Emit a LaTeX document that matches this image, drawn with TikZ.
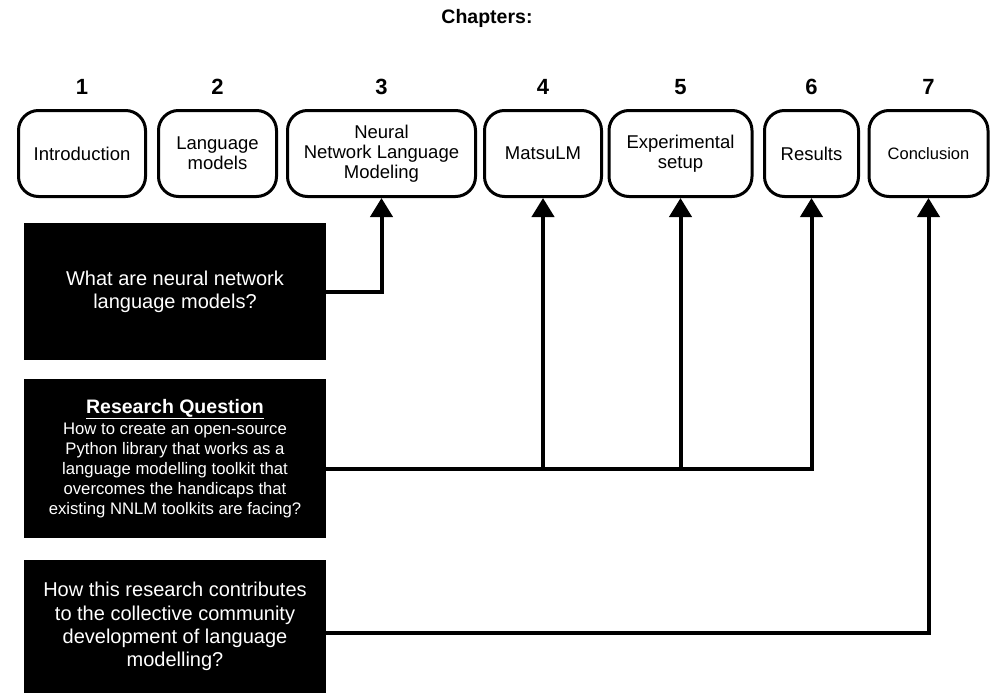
\documentclass[tikz,border=0pt]{standalone}
\usepackage{fontspec}
\setmainfont{Liberation Sans}
\usetikzlibrary{arrows.meta}
\begin{document}
\begin{tikzpicture}[x=1pt,y=-1pt,
  chapter/.style={draw=black, line width=3pt, rounded corners=20pt, fill=white,
    align=center, inner sep=0pt, font=\fontsize{18.5}{20}\selectfont},
  chapnum/.style={font=\bfseries\fontsize{22}{24}\selectfont, anchor=center},
  question/.style={fill=black, text=white, align=center, inner sep=0pt,
    font=\fontsize{20}{23.3}\selectfont},
  conn/.style={line width=4pt, -{Triangle[width=22pt,length=19pt]}},
  link/.style={line width=4pt}
]
\useasboundingbox (0,0) rectangle (992,693);

% title
\node[font=\bfseries\fontsize{19.5}{22}\selectfont, anchor=base] (title) at (487,24) {Chapters:};

% chapter boxes (x from left edge to right edge, y 109..198)
\node[chapter, minimum width=127pt, minimum height=86pt] (c1) at (82,153.5) {Introduction};
\node[chapter, minimum width=118pt, minimum height=86pt] (c2) at (217.5,153.5) {Language\\models};
\node[chapter, minimum width=188pt, minimum height=86pt] (c3) at (381.5,153.5) {Neural\\Network Language\\Modeling};
\node[chapter, minimum width=117pt, minimum height=86pt] (c4) at (543,153.5) {MatsuLM};
\node[chapter, minimum width=143pt, minimum height=86pt] (c5) at (680.5,153.5) {Experimental\\setup};
\node[chapter, minimum width=94pt, minimum height=86pt] (c6) at (811.5,153.5) {Results};
\node[chapter, minimum width=119pt, minimum height=86pt, font=\fontsize{16.5}{19}\selectfont] (c7) at (928.5,153.5) {Conclusion};

% chapter numbers
\node[chapnum] (n1) at (82,87) {1};
\node[chapnum] (n2) at (217.5,87) {2};
\node[chapnum] (n3) at (381.5,87) {3};
\node[chapnum] (n4) at (543,87) {4};
\node[chapnum] (n5) at (680.5,87) {5};
\node[chapnum] (n6) at (811.5,87) {6};
\node[chapnum] (n7) at (928.5,87) {7};

% questions
\node[question, minimum width=302pt, minimum height=137pt] (qa) at (175,291.5)
  {What are neural network\\language models?};
\node[question, minimum width=302pt, minimum height=159pt,
  font=\fontsize{16.7}{20}\selectfont] (qb) at (175,458.5)
  {{\bfseries\fontsize{19.5}{22}\selectfont\underline{Research Question}}\\[1pt]
   How to create an open-source\\Python library that works as a\\language modelling toolkit that\\overcomes the handicaps that\\existing NNLM toolkits are facing?};
\node[question, minimum width=302pt, minimum height=133pt] (qc) at (175,626.5)
  {How this research contributes\\to the collective community\\development of language\\modelling?};

% connectors
\draw[conn] (qa.east) -| (c3.south);

\coordinate (bj) at ([yshift=-10.5pt]qb.east);
\draw[conn] (bj) -| (c6.south);
\draw[conn] (bj -| c4.south) -- (c4.south);
\draw[conn] (bj -| c5.south) -- (c5.south);

\coordinate (cj) at ([yshift=-6.5pt]qc.east);
\draw[conn] (cj) -| (c7.south);
\end{tikzpicture}
\end{document}
